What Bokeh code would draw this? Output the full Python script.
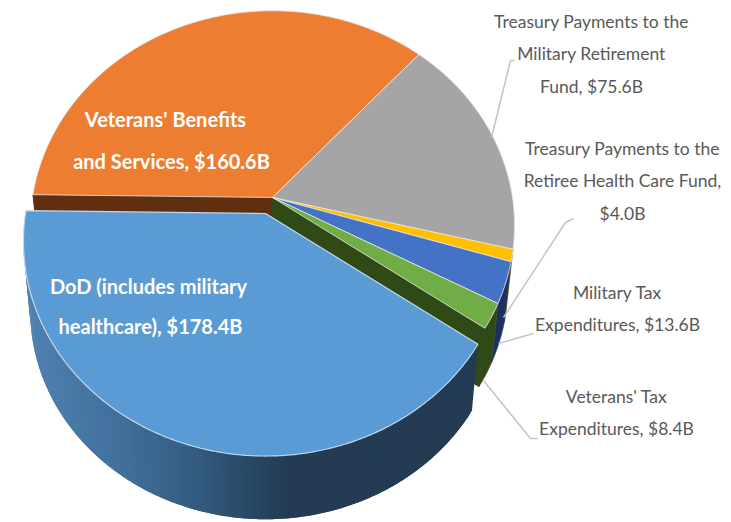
import math
from bokeh.plotting import figure
from bokeh.models import Range1d
from bokeh.core.properties import value
from bokeh.embed import file_html
from bokeh.resources import INLINE

categories = ["DoD (includes military healthcare)", "Veterans' Benefits and Services",
              "Treasury Payments to the Military Retirement Fund",
              "Treasury Payments to the Retiree Health Care Fund",
              "Military Tax Expenditures", "Veterans' Tax Expenditures"]
values_b = [178.4, 160.6, 75.6, 4.0, 13.6, 8.4]
top_colors = ["#5b9bd5", "#ed7d31", "#a5a5a5", "#ffc000", "#4472c4", "#70ad47"]
wall_colors = ["#233c53", "#5f2f10", "#5f5f5f", "#8a6a00", "#1c3160", "#2f4a16"]

dark_labels = ["Treasury Payments to the", "Military Retirement", "Fund, $75.6B",
               "Treasury Payments to the", "Retiree Health Care Fund,", "$4.0B",
               "Military Tax", "Expenditures, $13.6B",
               "Veterans' Tax", "Expenditures, $8.4B"]
white_labels = ["Veterans' Benefits", "and Services, $160.6B",
                "DoD (includes military", "healthcare), $178.4B"]

W, H = 731, 522
p = figure(width=W, height=H, output_backend="svg", toolbar_location=None,
           x_range=Range1d(0, W), y_range=Range1d(H, 0), min_border=0,
           outline_line_color=None, background_fill_color="white")
p.axis.visible = False
p.grid.visible = False

# perspective projection of the pie plane
A, B, K, SHRINK = 240.0, 211.0, 0.13, 0.972
START = 35.0
GROUP = (272.0, 197.0, 62.0)   # apex x, apex y, depth
BLUE = (265.0, 213.0, 70.0)


def proj(deg, apex, r=1.0, low=False):
    t = math.radians(deg)
    X, Y = r * math.cos(t), r * math.sin(t)
    w = 1 - K * Y
    s = SHRINK if low else 1.0
    return (apex[0] + s * A * X / w, apex[1] + (apex[2] if low else 0) + s * B * Y / w)


total = sum(values_b)
edges = [START]
for v in values_b:
    edges.append(edges[-1] + v / total * 360)


def arc(a0, a1, apex, low=False):
    n = max(2, int(abs(a1 - a0) * 2))
    return [proj(a0 + (a1 - a0) * i / n, apex, low=low) for i in range(n + 1)]


def wall(a0, a1, apex):
    pts = arc(a0, a1, apex) + arc(a1, a0, apex, low=True)
    return [q[0] for q in pts], [q[1] for q in pts]


def top(a0, a1, apex):
    pts = [proj(a0, apex, r=0)] + arc(a0, a1, apex)
    return [q[0] for q in pts], [q[1] for q in pts]


def radial_wall(deg, apex):
    a = proj(deg, apex, r=0); b = proj(deg, apex)
    c = proj(deg, apex, low=True); d = proj(deg, apex, r=0, low=True)
    return [a[0], b[0], c[0], d[0]], [a[1], b[1], c[1], d[1]]


# back group: cut faces and outer walls
xs, ys = radial_wall(edges[1], GROUP)
p.patch(xs, ys, fill_color=wall_colors[1], line_color=wall_colors[1])
xs, ys = radial_wall(edges[6] - 360, GROUP)
p.patch(xs, ys, fill_color=wall_colors[5], line_color=wall_colors[5])
for i in [3, 4, 5]:
    a0, a1 = edges[i] - 360, edges[i + 1] - 360
    xs, ys = wall(a0, a1, GROUP)
    p.patch(xs, ys, fill_color=wall_colors[i], line_color=wall_colors[i], line_width=0.5)

# group tops
for i in [1, 2, 3, 4, 5]:
    xs, ys = top(edges[i], edges[i + 1], GROUP)
    p.patch(xs, ys, fill_color=top_colors[i], line_color="#e6e6e6", line_width=1, line_alpha=0.8)

# blue slice outer wall with shading by x position
ramp = [(30, (0x4f, 0x82, 0xb0)), (130, (0x3f, 0x6e, 0x98)), (200, (0x33, 0x5a, 0x7f)),
        (285, (0x23, 0x3c, 0x53)), (800, (0x23, 0x3c, 0x53))]


def shade(x):
    for (x0, c0), (x1, c1) in zip(ramp, ramp[1:]):
        if x <= x1:
            f = max(0.0, (x - x0) / (x1 - x0))
            return "#%02x%02x%02x" % tuple(round(c0[j] + (c1[j] - c0[j]) * f) for j in range(3))
    return "#233c53"


step = 1.0
a = edges[0]
while a < edges[1]:
    b = min(a + step, edges[1])
    # each strip runs on under the next one, so no seam shows
    xs, ys = wall(a, min(b + step, edges[1]), BLUE)
    col = shade(proj((a + b) / 2, BLUE, low=True)[0])
    p.patch(xs, ys, fill_color=col, line_color=None)
    a = b

xs, ys = top(edges[0], edges[1], BLUE)
p.patch(xs, ys, fill_color=top_colors[0], line_color="#c4d9ec", line_width=1.2)

# leader lines
LEADER = "#c4c4c4"
p.line([491, 510, 514], [137, 60, 60], line_color=LEADER, line_width=1.5)
p.line([503, 565, 573], [317, 222, 218], line_color=LEADER, line_width=1.5)
p.line([498, 533], [343, 333], line_color=LEADER, line_width=1.5)
p.line([483, 530, 537], [380, 438, 438], line_color=LEADER, line_width=1.5)

# labels
dx = [591, 591, 591, 622, 622, 622, 617, 617, 616, 616]
dy = [21, 53, 86, 148, 180, 213, 292, 324, 396, 428]
p.text(dx, dy, text=dark_labels, text_align="center", text_baseline="middle",
       text_color="#595959", text_font=value("Lato"), text_font_size="17.5px")
wx = [165, 171, 148, 150]
wy = [118, 160, 285, 325]
p.text(wx, wy, text=white_labels, text_align="center", text_baseline="middle",
       text_color="white", text_font=value("Lato"), text_font_size="20px",
       text_font_style="bold")

open("out.html", "w").write(file_html(p, INLINE))
